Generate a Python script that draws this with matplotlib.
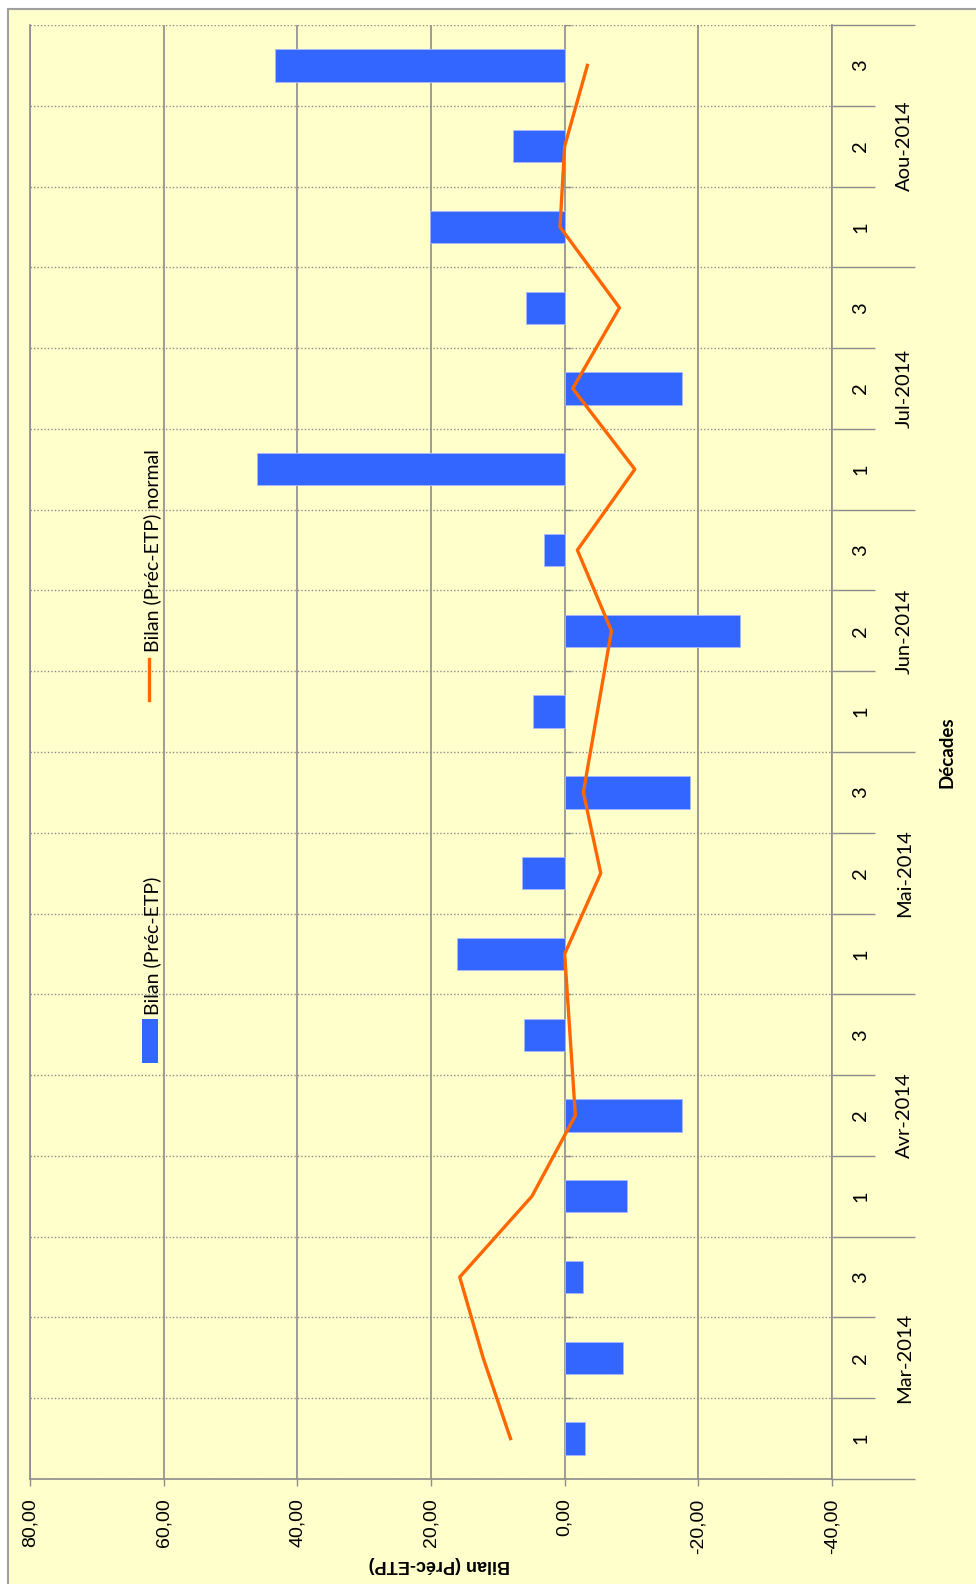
import numpy as np
import matplotlib.pyplot as plt
from matplotlib.patches import Rectangle
from matplotlib.lines import Line2D

# --------------------------
# Données
# --------------------------
mois = ["Mar-2014", "Avr-2014", "Mai-2014", "Jun-2014", "Jul-2014", "Aou-2014"]
decades = ["1", "2", "3"] * 6
bilan = [-3.0, -8.8, -2.7, -9.3, -17.6, 6.1, 16.1, 6.4, -18.8, 4.8, -26.3, 3.1,
         46.0, -17.5, 5.8, 20.1, 7.7, 43.3]
bilan_normal = [8.1, 12.2, 15.7, 4.9, -1.6, -0.8, 0.0, -5.4, -2.8, -4.9, -7.0, -1.9,
                -10.5, -1.2, -8.2, 0.7, 0.0, -3.4]
val_ticks = [80, 60, 40, 20, 0, -20, -40]
val_labels = ["80,00", "60,00", "40,00", "20,00", "0,00", "-20,00", "-40,00"]

W, H = 976, 1584
BG = "#FFFFCC"
GRIS = "#8C8C8C"
BLEU = "#3366FF"
ORANGE = "#FF6600"


def fx(x):
    return x / W


def fy(y):
    return 1 - y / H


fig = plt.figure(figsize=(W / 100, H / 100), dpi=100)
fig.patch.set_facecolor("white")
fig.add_artist(Rectangle((fx(8), -0.05), 1.2, fy(9) + 0.05, transform=fig.transFigure,
                         facecolor=BG, edgecolor="#A0A0A0", lw=1.5, zorder=-10))

ax = fig.add_axes([fx(30), fy(1479), (832 - 30) / W, (1479 - 25) / H])
ax.set_facecolor(BG)

y = np.arange(len(bilan))
ax.barh(y, bilan, height=0.4, color=BLEU, edgecolor="#A8B8FF", linewidth=0.6, zorder=2)
ax.plot(bilan_normal, y, color=ORANGE, lw=2.4, zorder=3)

ax.set_xlim(80, -40)
ax.set_ylim(-0.5, len(bilan) - 0.5)

# axe des valeurs (en bas)
ax.set_xticks(val_ticks)
ax.set_xticklabels(val_labels, rotation=90, fontfamily="Liberation Sans", fontsize=14)
ax.tick_params(axis="x", length=5, width=1, color=GRIS, pad=9)
ax.grid(axis="x", color=GRIS, lw=1.2, ls="-", zorder=0)

# axe des catégories (à droite)
bornes = np.arange(-0.5, len(bilan), 1)
ax.set_yticks(bornes[::3])
ax.set_yticks([b for i, b in enumerate(bornes) if i % 3], minor=True)
ax.yaxis.set_ticks_position("right")
ax.tick_params(axis="y", which="major", length=60, width=1, color=GRIS, labelright=False)
ax.tick_params(axis="y", which="minor", length=31, width=1, color=GRIS, labelright=False)
ax.grid(axis="y", which="both", color=GRIS, lw=1, ls=(0, (1, 1.5)), zorder=0)
ax.hlines(bornes, 0, -0.9, color=GRIS, lw=1, zorder=1)

for s in ["left", "right", "bottom"]:
    ax.spines[s].set_color(GRIS)
    ax.spines[s].set_linewidth(1.2)
ax.spines["top"].set_visible(False)

tr = ax.get_yaxis_transform()
for i, d in enumerate(decades):
    ax.text(1.036, i, d, transform=tr, rotation=90, ha="center", va="center",
            fontfamily="Lato", fontsize=14.5)
for k, m in enumerate(mois):
    ax.text(1.090, 3 * k + 1, m, transform=tr, rotation=90, ha="center", va="center",
            fontfamily="Lato", fontsize=14.5)

ax.text(1.143, 0.5, "Décades", transform=ax.transAxes, rotation=90, ha="center",
        va="center", fontfamily="Lato", fontweight="bold", fontsize=13.5)
fig.text(fx(439), fy(1564), "Bilan (Préc-ETP)", rotation=180, ha="center", va="center",
         fontfamily="Liberation Sans", fontweight="bold", fontsize=13)

# légende
fig.add_artist(Rectangle((fx(142), fy(1063)), 16 / W, 44 / H, transform=fig.transFigure,
                         facecolor=BLEU, edgecolor="none"))
fig.text(fx(152), fy(1015), "Bilan (Préc-ETP)", rotation=90, ha="center", va="bottom",
         fontfamily="Lato", fontsize=14)
fig.add_artist(Line2D([fx(149), fx(149)], [fy(700), fy(659)], color=ORANGE, lw=2.4,
                      transform=fig.transFigure))
fig.text(fx(152), fy(652), "Bilan (Préc-ETP) normal", rotation=90, ha="center", va="bottom",
         fontfamily="Lato", fontsize=14)

fig.savefig("out.png", dpi=100, facecolor=fig.get_facecolor())
